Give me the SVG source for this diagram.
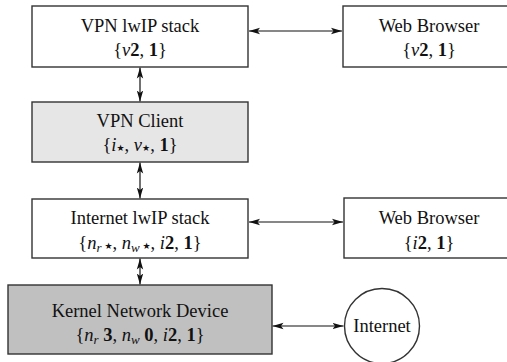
<svg xmlns="http://www.w3.org/2000/svg" width="507" height="362" viewBox="0 0 507 362">
<style>
.box{stroke:#333;stroke-width:1.4;}
.t{font-family:'Liberation Serif','Times New Roman',serif;font-size:18.5px;fill:#111;text-anchor:middle;}
.b{font-weight:bold;}
.i{font-style:italic;}
.s{font-size:13px;}
.st{font-family:'DejaVu Sans',sans-serif;font-size:9px;}
.c{stroke:#111;stroke-width:1.2;fill:none;marker-start:url(#ah);marker-end:url(#ah);}
</style>
<defs>
<marker id="ah" markerUnits="userSpaceOnUse" markerWidth="12" markerHeight="8" viewBox="0 -4 12 8" refX="11" refY="0" orient="auto-start-reverse">
<path d="M0,-3.2 L11,0 L0,3.2 L2.5,0 z" fill="#111"/>
</marker>
</defs>
<rect width="507" height="362" fill="#fff"/>
<g id="connectors">
<line class="c" x1="140" y1="67.5" x2="140" y2="101.5"/>
<line class="c" x1="140" y1="162.5" x2="140" y2="198.5"/>
<line class="c" x1="140" y1="258.5" x2="140" y2="284.5"/>
<line class="c" x1="249" y1="31" x2="342" y2="31"/>
<line class="c" x1="249" y1="222" x2="343" y2="222"/>
<line class="c" x1="272.5" y1="326" x2="343.5" y2="326"/>
</g>
<g id="vpn-lwip">
<rect class="box" x="32" y="6" width="216" height="61" fill="#fff"/>
<text class="t" x="140" y="32">VPN lwIP stack</text>
<text class="t" x="140" y="56">{<tspan class="i">v</tspan><tspan class="b">2</tspan>, <tspan class="b">1</tspan>}</text>
</g>
<g id="web-browser-1">
<rect class="box" x="343" y="6" width="172" height="61" fill="#fff"/>
<text class="t" x="429" y="32">Web Browser</text>
<text class="t" x="429" y="56">{<tspan class="i">v</tspan><tspan class="b">2</tspan>, <tspan class="b">1</tspan>}</text>
</g>
<g id="vpn-client">
<rect class="box" x="32" y="102" width="216" height="60" fill="#e6e6e6"/>
<text class="t" x="140" y="127">VPN Client</text>
<text class="t" x="140" y="151">{<tspan class="i">i</tspan><tspan class="st">★</tspan>, <tspan class="i">v</tspan><tspan class="st">★</tspan>, <tspan class="b">1</tspan>}</text>
</g>
<g id="internet-lwip">
<rect class="box" x="32" y="199" width="216" height="59" fill="#fff"/>
<text class="t" x="140" y="224">Internet lwIP stack</text>
<text class="t" x="140" y="249">{<tspan class="i">n</tspan><tspan class="i s" dy="3">r</tspan><tspan class="st" dy="-3"> ★</tspan>, <tspan class="i">n</tspan><tspan class="i s" dy="3">w</tspan><tspan class="st" dy="-3"> ★</tspan>, <tspan class="i">i</tspan><tspan class="b">2</tspan>, <tspan class="b">1</tspan>}</text>
</g>
<g id="web-browser-2">
<rect class="box" x="344" y="198" width="172" height="60" fill="#fff"/>
<text class="t" x="429" y="224">Web Browser</text>
<text class="t" x="429" y="249">{<tspan class="i">i</tspan><tspan class="b">2</tspan>, <tspan class="b">1</tspan>}</text>
</g>
<g id="kernel-device">
<rect class="box" x="8" y="285" width="264" height="69" fill="#c0c0c0"/>
<text class="t" x="140" y="317">Kernel Network Device</text>
<text class="t" x="140" y="341">{<tspan class="i">n</tspan><tspan class="i s" dy="3">r</tspan><tspan class="b" dy="-3"> 3</tspan>, <tspan class="i">n</tspan><tspan class="i s" dy="3">w</tspan><tspan class="b" dy="-3"> 0</tspan>, <tspan class="i">i</tspan><tspan class="b">2</tspan>, <tspan class="b">1</tspan>}</text>
</g>
<g id="internet">
<circle class="box" cx="382" cy="326" r="37.5" fill="#fff"/>
<text class="t" x="382" y="332">Internet</text>
</g>
</svg>
